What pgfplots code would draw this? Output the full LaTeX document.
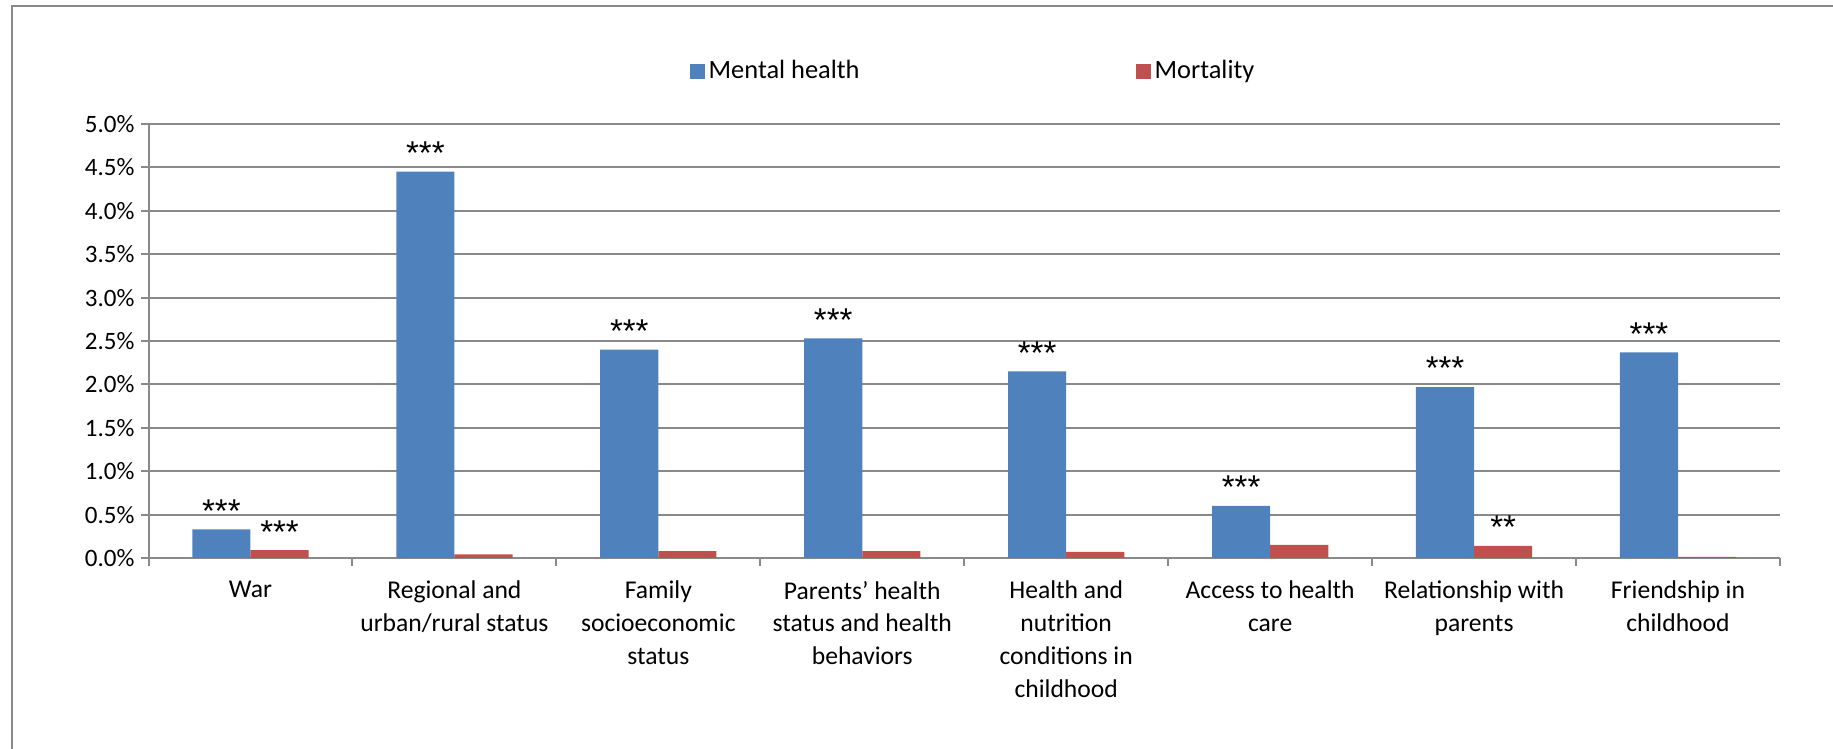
\documentclass[border=0pt]{standalone}
\usepackage{pgfplots}
\pgfplotsset{compat=1.18}
\usepackage{fontspec}
\setmainfont{Carlito}
\newfontfamily\starfont{Liberation Sans}
\definecolor{mhblue}{HTML}{4F81BD}
\definecolor{mored}{HTML}{C0504D}
\definecolor{gridgray}{HTML}{898989}

\begin{document}
\begin{tikzpicture}
\useasboundingbox (0,0) rectangle (916.5pt,374.5pt);
\draw[gridgray, line width=1pt] (6pt,0) -- (6pt,371.5pt) -- (916.5pt,371.5pt);
\begin{axis}[
    at={(74.25pt,95.5pt)}, anchor=south west,
    scale only axis, width=815.75pt, height=217pt,
    ybar=0pt, bar width=0.285,
    xmin=-0.5, xmax=7.5, ymin=0, ymax=5,
    axis x line*=bottom, axis y line*=left,
    axis line style={gridgray, line width=1pt},
    ymajorgrids, major grid style={gridgray, line width=1pt},
    ytick={0,0.5,1,1.5,2,2.5,3,3.5,4,4.5,5},
    yticklabel={\pgfmathprintnumber[fixed,fixed zerofill,precision=1]{\tick}\%},
    /pgf/number format/assume math mode=true,
    yticklabel style={font=\fontsize{12.5}{14}\selectfont},
    tick align=outside,
    major tick length=3.5pt, minor tick length=4pt,
    tick style={gridgray, line width=1pt},
    major x tick style={draw=none},
    xtick={0,1,2,3,4,5,6,7},
    minor xtick={-0.5,0.5,1.5,2.5,3.5,4.5,5.5,6.5,7.5},
    xticklabels={War,
        {Regional and\\urban/rural status},
        {Family\\socioeconomic\\status},
        {Parents’ health\\status and health\\behaviors},
        {Health and\\nutrition\\conditions in\\childhood},
        {Access to health\\care},
        {Relationship with\\parents},
        {Friendship in\\childhood}},
    xticklabel style={align=center, font=\fontsize{12.8}{16.4}\selectfont, anchor=north, yshift=-4.5pt},
    nodes near coords, point meta=explicit symbolic,
    every node near coord/.append style={font=\starfont\fontsize{16.5}{18}\selectfont, anchor=south, text=black},
    legend style={at={(0.506,1.122)}, anchor=center, draw=none, fill=none,
        legend columns=2, font=\fontsize{13.2}{15}\selectfont,
        /tikz/every even column/.append style={column sep=136pt}},
    legend image code/.code={\fill[#1,/tikz/.cd] (0pt,-3.75pt) rectangle (7.5pt,3.75pt);},
    clip=false,
]
\addplot[fill=mhblue, draw=none] coordinates {
    (0,0.33) [***] (1,4.45) [***] (2,2.40) [***] (3,2.53) [***]
    (4,2.15) [***] (5,0.60) [***] (6,1.97) [***] (7,2.37) [***]};
\addplot[fill=mored, draw=none] coordinates {
    (0,0.09) [***] (1,0.043) [] (2,0.078) [] (3,0.078) []
    (4,0.07) [] (5,0.152) [] (6,0.141) [**] (7,0.012) []};
\legend{Mental health, Mortality}
\end{axis}
\end{tikzpicture}
\end{document}
